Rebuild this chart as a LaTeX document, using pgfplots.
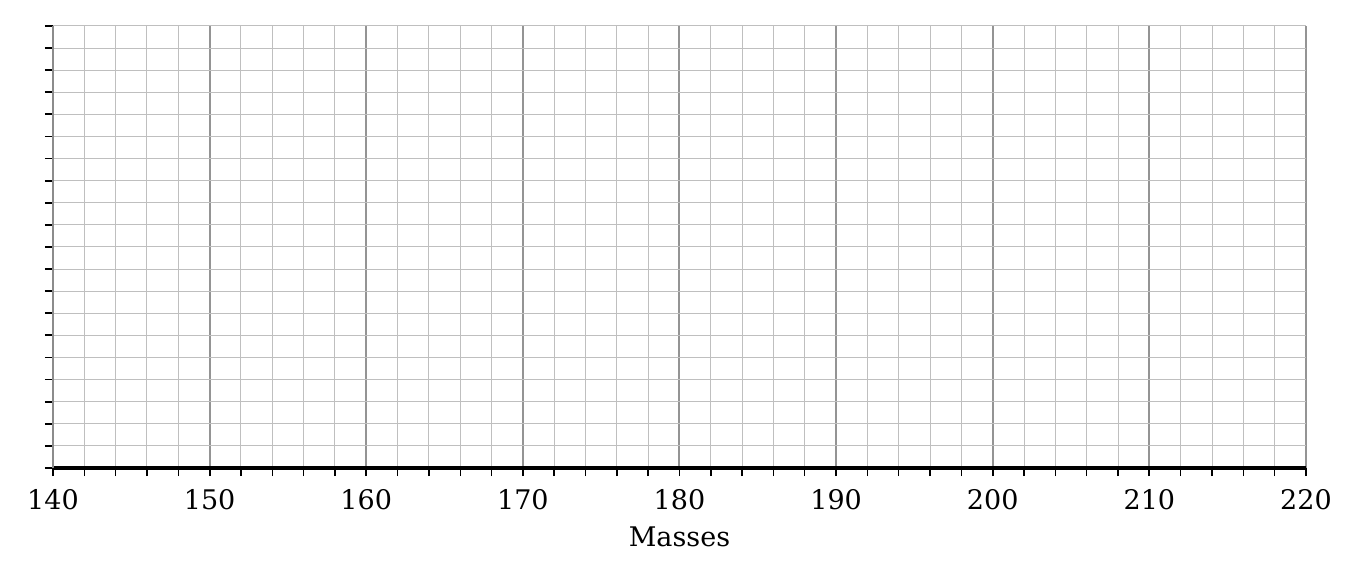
\documentclass[border=0pt]{standalone}
\usepackage{pgfplots}
\pgfplotsset{compat=1.18}
\usepackage{fontspec}
\setmainfont{DejaVu Serif}
\begin{document}
\begin{tikzpicture}
\useasboundingbox (-26.5pt,-55pt) rectangle (653.5pt,234pt);
\begin{axis}[
  at={(0,0)}, anchor=south west,
  scale only axis, width=626.5pt, height=221pt,
  xmin=140, xmax=220, ymin=0, ymax=20,
  axis x line=bottom, axis y line=left,
  x axis line style={-, line width=1.8pt, black},
  y axis line style={-, line width=0.7pt, draw=black!45},
  xtick={140,150,...,220},
  minor x tick num=4,
  ytick={0,1,...,20},
  yticklabels={},
  tick align=outside,
  major tick length=4pt, minor tick length=4pt,
  every tick/.style={black, line width=0.9pt},
  every minor tick/.style={black, line width=0.7pt},
  grid=both,
  major grid style={draw=black!42, line width=1pt},
  minor grid style={draw=black!25, line width=0.5pt},
  y grid style={draw=black!25, line width=0.5pt},
  /pgf/number format/assume math mode=true,
  /pgf/number format/1000 sep={},
  tick label style={font=\fontsize{13.5}{16}\selectfont},
  xticklabel style={yshift=-3pt},
  xlabel={Masses},
  xlabel style={font=\fontsize{13.5}{16}\selectfont, yshift=-2pt},
]
\addplot[draw=none] coordinates {(140,0) (220,20)};
\end{axis}
\end{tikzpicture}
\end{document}
